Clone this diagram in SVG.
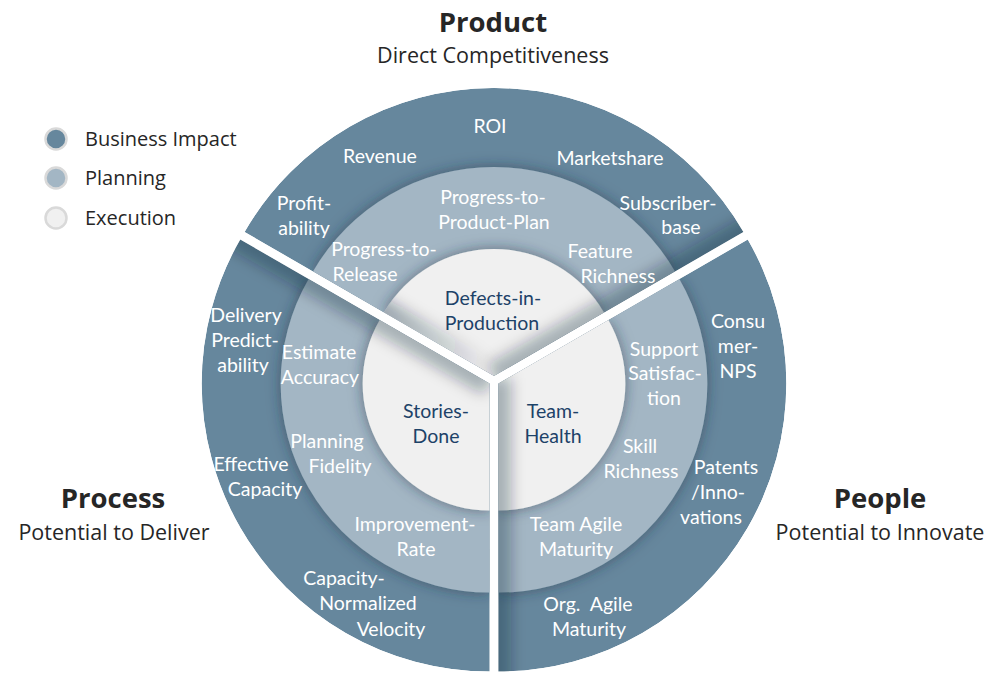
<svg xmlns="http://www.w3.org/2000/svg" width="1006" height="692" viewBox="0 0 1006 692">
<style>
.outer{fill:#66879d}
.mid{fill:#a3b6c4}
.inner{fill:#f0f0f0}
.lbl{font-family:Lato,"Open Sans",sans-serif;font-size:19.5px;fill:#ffffff;text-anchor:middle}
.ilbl{font-family:Lato,"Open Sans",sans-serif;font-size:19.5px;fill:#1d4268;text-anchor:middle}
.title{font-family:"Open Sans","Noto Sans",sans-serif;font-size:27.5px;font-weight:bold;fill:#262626;text-anchor:middle}
.sub{font-family:"Open Sans","Noto Sans",sans-serif;font-size:21.5px;fill:#262626;text-anchor:middle}
.leg{font-family:"Open Sans","Noto Sans",sans-serif;font-size:20px;fill:#262626}
.legc{stroke:#d9d9d9;stroke-width:2.5}
.band{stroke:#0e2233;stroke-width:26;stroke-opacity:0.3;fill:none}
</style>
<defs>
<filter id="sh" filterUnits="userSpaceOnUse" x="0" y="0" width="1006" height="692">
<feDropShadow dx="0" dy="0" stdDeviation="7" flood-color="#1a3043" flood-opacity="0.55"/>
</filter>
<filter id="blur" filterUnits="userSpaceOnUse" x="0" y="0" width="1006" height="692">
<feGaussianBlur stdDeviation="7"/>
</filter>
<clipPath id="clipTop"><path d="M494,376 L743.42,232 A288,288 0 0 0 244.58,232 Z"/></clipPath>
<clipPath id="clipLeft"><path d="M489.67,383.5 L240.25,239.5 A288,288 0 0 0 489.67,671.5 Z"/></clipPath>
<clipPath id="clipRight"><path d="M498.33,383.5 L498.33,671.5 A288,288 0 0 0 747.75,239.5 Z"/></clipPath>
<clipPath id="clipTopInner"><path d="M494,376 L603.99,312.5 A127,127 0 0 0 384.01,312.5 Z"/></clipPath>
<linearGradient id="fadeL" gradientUnits="userSpaceOnUse" x1="494" y1="376" x2="384" y2="312.5">
<stop offset="0" stop-color="#0e2233" stop-opacity="0"/>
<stop offset="1" stop-color="#0e2233" stop-opacity="0.35"/>
</linearGradient>
</defs>
<rect width="1006" height="692" fill="#ffffff"/>

<!-- Product slice -->
<g id="product-slice" clip-path="url(#clipTop)">
<path id="product-impact" class="outer" d="M494,376 L743.42,232 A288,288 0 0 0 244.58,232 Z"/>
<path id="product-planning" class="mid" filter="url(#sh)" d="M494,376 L675,271.5 A209,209 0 0 0 313,271.5 Z"/>
<path id="product-execution" class="inner" filter="url(#sh)" d="M494,376 L603.99,312.5 A127,127 0 0 0 384.01,312.5 Z"/>
<line class="band" filter="url(#blur)" x1="494" y1="376" x2="760" y2="222.4"/>
<g clip-path="url(#clipTopInner)">
<line stroke="url(#fadeL)" stroke-width="26" filter="url(#blur)" x1="494" y1="376" x2="370" y2="304.4"/>
</g>
</g>

<!-- Process slice -->
<g id="process-slice" clip-path="url(#clipLeft)">
<path id="process-impact" class="outer" d="M489.67,383.5 L240.25,239.5 A288,288 0 0 0 489.67,671.5 Z"/>
<path id="process-planning" class="mid" filter="url(#sh)" d="M489.67,383.5 L308.67,279 A209,209 0 0 0 489.67,592.5 Z"/>
<path id="process-execution" class="inner" filter="url(#sh)" d="M489.67,383.5 L379.68,320 A127,127 0 0 0 489.67,510.5 Z"/>
<line class="band" filter="url(#blur)" stroke-opacity="0.2" x1="489.67" y1="383.5" x2="225" y2="230.7"/>
</g>

<!-- People slice -->
<g id="people-slice" clip-path="url(#clipRight)">
<path id="people-impact" class="outer" d="M498.33,383.5 L498.33,671.5 A288,288 0 0 0 747.75,239.5 Z"/>
<path id="people-planning" class="mid" filter="url(#sh)" d="M498.33,383.5 L498.33,592.5 A209,209 0 0 0 679.33,279 Z"/>
<path id="people-execution" class="inner" filter="url(#sh)" d="M498.33,383.5 L498.33,510.5 A127,127 0 0 0 608.32,320 Z"/>
<line class="band" filter="url(#blur)" x1="498.33" y1="378" x2="498.33" y2="690"/>
</g>

<!-- Product labels -->
<g id="product-impact-labels" class="lbl">
<text x="490" y="133">ROI</text>
<text x="380" y="163">Revenue</text>
<text x="610" y="165">Marketshare</text>
<text x="304" y="210">Profit-</text>
<text x="304" y="235">ability</text>
<text x="668" y="210">Subscriber-</text>
<text x="681" y="234">base</text>
</g>
<g id="product-planning-labels" class="lbl">
<text x="493" y="204">Progress-to-</text>
<text x="494" y="229">Product-Plan</text>
<text x="384" y="256">Progress-to-</text>
<text x="365" y="281">Release</text>
<text x="600" y="258">Feature</text>
<text x="618" y="283">Richness</text>
</g>
<g id="product-execution-labels" class="ilbl">
<text x="493" y="305">Defects-in-</text>
<text x="492" y="330">Production</text>
</g>

<!-- Process labels -->
<g id="process-impact-labels" class="lbl">
<text x="246" y="322">Delivery</text>
<text x="245" y="347">Predict-</text>
<text x="243" y="372">ability</text>
<text x="251" y="471">Effective</text>
<text x="265" y="496">Capacity</text>
<text x="344" y="585">Capacity-</text>
<text x="368" y="610">Normalized</text>
<text x="391" y="636">Velocity</text>
</g>
<g id="process-planning-labels" class="lbl">
<text x="319" y="359">Estimate</text>
<text x="320" y="384">Accuracy</text>
<text x="327" y="448">Planning</text>
<text x="340" y="473">Fidelity</text>
<text x="415" y="531">Improvement-</text>
<text x="416" y="556">Rate</text>
</g>
<g id="process-execution-labels" class="ilbl">
<text x="436" y="418">Stories-</text>
<text x="436" y="443">Done</text>
</g>

<!-- People labels -->
<g id="people-impact-labels" class="lbl">
<text x="738" y="328">Consu</text>
<text x="738" y="353">mer-</text>
<text x="738" y="378">NPS</text>
<text x="726" y="474">Patents</text>
<text x="718" y="499">/Inno-</text>
<text x="711" y="524">vations</text>
<text x="588" y="611" xml:space="preserve">Org.  Agile</text>
<text x="589" y="636">Maturity</text>
</g>
<g id="people-planning-labels" class="lbl">
<text x="664" y="356">Support</text>
<text x="665" y="380">Satisfac-</text>
<text x="664" y="405">tion</text>
<text x="640" y="453">Skill</text>
<text x="641" y="478">Richness</text>
<text x="576" y="531">Team Agile</text>
<text x="576" y="556">Maturity</text>
</g>
<g id="people-execution-labels" class="ilbl">
<text x="553" y="418">Team-</text>
<text x="553" y="443">Health</text>
</g>

<!-- Titles -->
<g id="title-product">
<text class="title" x="493" y="32">Product</text>
<text class="sub" x="493" y="63">Direct Competitiveness</text>
</g>
<g id="title-process">
<text class="title" x="113" y="508">Process</text>
<text class="sub" x="114" y="540">Potential to Deliver</text>
</g>
<g id="title-people">
<text class="title" x="880" y="508">People</text>
<text class="sub" x="880" y="540">Potential to Innovate</text>
</g>

<!-- Legend -->
<g id="legend-business-impact">
<circle class="legc" cx="56" cy="139" r="10.5" fill="#66879d"/>
<text class="leg" x="85" y="146">Business Impact</text>
</g>
<g id="legend-planning">
<circle class="legc" cx="56" cy="178" r="10.5" fill="#a3b6c4"/>
<text class="leg" x="85" y="185">Planning</text>
</g>
<g id="legend-execution">
<circle class="legc" cx="56" cy="218" r="10.5" fill="#f0f0f0"/>
<text class="leg" x="85" y="225">Execution</text>
</g>
<g id="connectors"/>
</svg>
